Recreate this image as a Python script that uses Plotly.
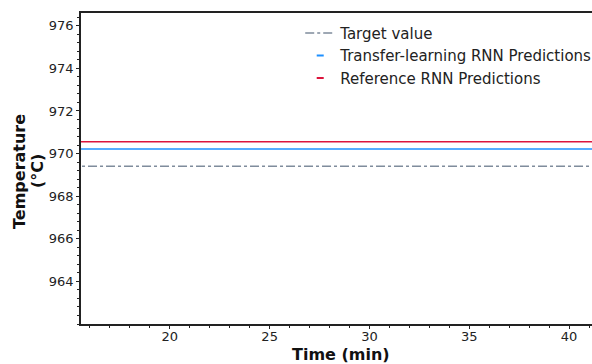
import plotly.graph_objects as go

# Data
time_min = [15, 20, 25, 30, 35, 40, 42]
target_value = [969.4, 969.4, 969.4, 969.4, 969.4, 969.4, 969.4]
tl_rnn_pred = [970.22, 970.22, 970.22, 970.22, 970.22, 970.22, 970.22]
ref_rnn_pred = [970.56, 970.56, 970.56, 970.56, 970.56, 970.56, 970.56]

series_names = ["Target value", "Transfer-learning RNN Predictions", "Reference RNN Predictions"]
x_ticks = [20, 25, 30, 35, 40]
y_ticks = [964, 966, 968, 970, 972, 974, 976]

c_target = "#7f8c9c"
c_tl = "#1e90ff"
c_ref = "#dc143c"

fig = go.Figure()
fig.add_trace(go.Scatter(x=time_min, y=target_value, mode="lines", name=series_names[0],
                         line=dict(color=c_target, width=1.5, dash="dashdot"), showlegend=True))
fig.add_trace(go.Scatter(x=time_min, y=tl_rnn_pred, mode="lines", name=series_names[1],
                         line=dict(color=c_tl, width=1.5), showlegend=False))
fig.add_trace(go.Scatter(x=time_min, y=ref_rnn_pred, mode="lines", name=series_names[2],
                         line=dict(color=c_ref, width=1.5), showlegend=False))
# legend-only dash markers
fig.add_trace(go.Scatter(x=[None], y=[None], mode="markers", name=series_names[1],
                         marker=dict(symbol="line-ew-open", size=5, color=c_tl, line=dict(color=c_tl, width=2))))
fig.add_trace(go.Scatter(x=[None], y=[None], mode="markers", name=series_names[2],
                         marker=dict(symbol="line-ew-open", size=5, color=c_ref, line=dict(color=c_ref, width=2))))

axis_common = dict(showline=True, linecolor="#222", linewidth=1.5, ticks="outside",
                   ticklen=3, tickcolor="#222", showgrid=False, zeroline=False,
                   tickfont=dict(family="DejaVu Sans", size=13, color="#222"))

fig.update_xaxes(range=[15.55, 41.15], tickvals=x_ticks, mirror=True, ticklabelstandoff=-3,
                 minor=dict(dtick=1, ticks="outside", ticklen=2, tickcolor="#222"),
                 **axis_common)
fig.update_yaxes(range=[962.0, 976.6], tickvals=y_ticks, ticklabelstandoff=0,
                 minor=dict(dtick=0.4, tick0=962, ticks="outside", ticklen=2, tickcolor="#222"),
                 **axis_common)

title_font = dict(family="DejaVu Sans", size=16, color="#111")
fig.add_annotation(text="<b>Time (min)</b>", xref="paper", yref="paper", x=0.509, y=-0.0965,
                   xanchor="center", yanchor="middle", showarrow=False, font=title_font)
fig.add_annotation(text="<b>Temperature</b>", xref="paper", yref="paper", x=-0.1194, y=0.492,
                   xanchor="center", yanchor="middle", textangle=-90, showarrow=False, font=title_font)
fig.add_annotation(text="<b>(°C)</b>", xref="paper", yref="paper", x=-0.0841, y=0.492,
                   xanchor="center", yanchor="middle", textangle=-90, showarrow=False, font=title_font)

fig.update_layout(
    width=592, height=364,
    margin=dict(l=81, r=0, t=13, b=40, autoexpand=False),
    plot_bgcolor="white", paper_bgcolor="white",
    font=dict(family="DejaVu Sans", size=12, color="#222"),
    legend=dict(x=0.429, y=0.988, xanchor="left", yanchor="top", bgcolor="rgba(0,0,0,0)",
                font=dict(family="DejaVu Sans", size=15, color="#222"), itemwidth=30,
                tracegroupgap=0),
)

fig.write_html("out.html")
